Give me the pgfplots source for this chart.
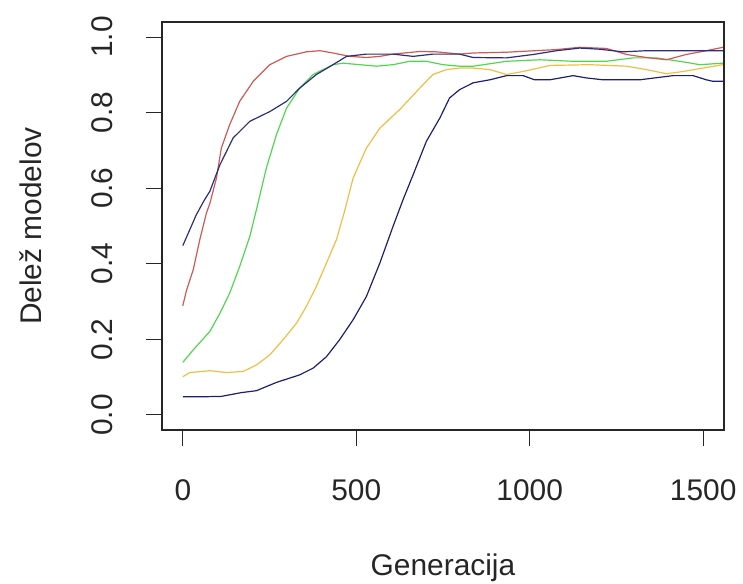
\documentclass[border=0pt]{standalone}
\usepackage{fontspec}
\setmainfont{Liberation Sans}
\usepackage{pgfplots}
\pgfplotsset{compat=1.18}
\definecolor{cred}{RGB}{205,90,85}
\definecolor{cnavy}{RGB}{30,30,115}
\definecolor{cnavyB}{RGB}{45,45,125}
\definecolor{cgreen}{RGB}{80,215,80}
\definecolor{corange}{RGB}{240,190,70}
\begin{document}
\fontsize{30}{36}\selectfont
\begin{tikzpicture}
\path[use as bounding box] (-162bp,-154bp) rectangle (581bp,430bp);
\begin{axis}[
  at={(0,0)}, anchor=south west,
  scale only axis, width=562bp, height=408bp,
  xmin=-60, xmax=1560, ymin=-0.04, ymax=1.04,
  axis line style={line width=1.3bp, black!85},
  tick style={line width=1.1bp, black!85},
  tick align=outside, tick pos=left,
  major tick length=16bp,
  xtick={0,500,1000,1500},
  ytick={0,0.2,0.4,0.6,0.8,1.0},
  /pgf/number format/assume math mode=true,
  yticklabel={\pgfmathprintnumber[fixed,fixed zerofill,precision=1]{\tick}},
  xticklabel={\pgfmathprintnumber[fixed,precision=0,1000 sep={}]{\tick}},
  xticklabel style={anchor=base, inner sep=0pt, yshift=-70bp+16bp, font=\fontsize{30}{36}\selectfont, text=black!85},
  yticklabel style={xshift=-33bp, rotate=90, anchor=base, inner sep=0pt, font=\fontsize{30}{36}\selectfont, text=black!85},
  xlabel={Generacija},
  ylabel={Delež modelov},
  xlabel style={at={(axis description cs:0.5,0)}, anchor=base, inner sep=0pt, yshift=-145bp, font=\fontsize{30}{36}\selectfont, text=black!85},
  ylabel style={at={(axis description cs:0,0.5)}, anchor=base, inner sep=0pt, yshift=120bp, font=\fontsize{30}{36}\selectfont, text=black!85},
  every axis plot/.append style={line width=1.2bp, no marks},
  clip=true,
]
% lower navy
\addplot[cnavy] coordinates {
(0,0.048)(60,0.048)(111,0.049)(169,0.059)(212,0.064)(270,0.086)(337,0.106)(376,0.124)(414,0.154)(452,0.199)(491,0.252)(529,0.313)(568,0.402)(606,0.499)(635,0.57)(664,0.636)(702,0.724)(741,0.786)(769,0.839)(798,0.861)(837,0.879)(885,0.887)(933,0.898)(981,0.898)(1014,0.887)(1058,0.887)(1125,0.898)(1163,0.892)(1211,0.887)(1317,0.887)(1413,0.898)(1471,0.898)(1509,0.887)(1528,0.883)(1557,0.883)};
% orange
\addplot[corange] coordinates {
(0,0.101)(20,0.112)(78,0.117)(126,0.112)(174,0.115)(212,0.132)(251,0.159)(289,0.199)(328,0.243)(356,0.287)(385,0.34)(414,0.402)(443,0.464)(465,0.535)(491,0.627)(529,0.706)(568,0.759)(625,0.808)(683,0.865)(721,0.901)(760,0.914)(798,0.918)(837,0.918)(885,0.914)(933,0.901)(981,0.909)(1058,0.925)(1173,0.927)(1279,0.923)(1336,0.914)(1394,0.903)(1442,0.909)(1499,0.918)(1557,0.927)};
% green
\addplot[cgreen] coordinates {
(0,0.139)(30,0.172)(78,0.221)(107,0.269)(135,0.322)(164,0.393)(193,0.472)(214,0.55)(241,0.654)(270,0.742)(299,0.812)(337,0.865)(376,0.901)(433,0.927)(462,0.931)(510,0.927)(558,0.923)(606,0.927)(654,0.936)(702,0.936)(750,0.927)(798,0.923)(837,0.923)(933,0.936)(1029,0.94)(1125,0.936)(1221,0.936)(1298,0.945)(1365,0.945)(1432,0.936)(1490,0.927)(1557,0.931)};
% red
\addplot[cred] coordinates {
(0,0.289)(11,0.331)(30,0.384)(49,0.464)(68,0.534)(78,0.56)(97,0.627)(111,0.706)(135,0.768)(164,0.83)(203,0.883)(251,0.927)(299,0.949)(356,0.961)(395,0.964)(433,0.958)(481,0.949)(529,0.946)(568,0.949)(606,0.955)(683,0.962)(731,0.961)(798,0.955)(837,0.958)(933,0.96)(1077,0.967)(1144,0.973)(1221,0.97)(1279,0.954)(1336,0.946)(1394,0.94)(1451,0.954)(1509,0.964)(1557,0.973)};
% upper navy
\addplot[cnavyB] coordinates {
(0,0.448)(20,0.49)(39,0.53)(63,0.57)(78,0.592)(107,0.662)(145,0.733)(193,0.777)(251,0.803)(299,0.83)(337,0.865)(385,0.901)(433,0.927)(472,0.949)(529,0.955)(606,0.955)(664,0.949)(721,0.955)(798,0.955)(837,0.946)(933,0.945)(1010,0.954)(1077,0.964)(1144,0.971)(1201,0.968)(1269,0.961)(1336,0.964)(1413,0.964)(1557,0.964)};
\end{axis}
\end{tikzpicture}
\end{document}
